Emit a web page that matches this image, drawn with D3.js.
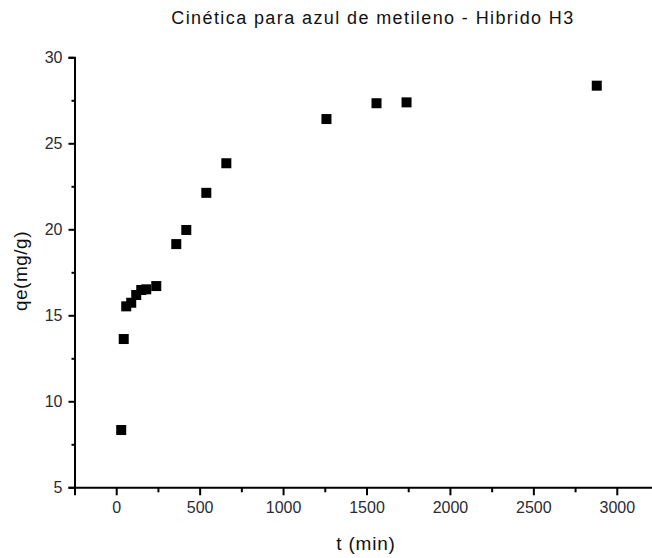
<!DOCTYPE html>
<html>
<head>
<meta charset="utf-8">
<script src="https://cdn.jsdelivr.net/npm/d3@7"></script>
<style>
  body { margin: 0; background: #fff; }
  text { font-family: "Liberation Sans", Arial, sans-serif; }
</style>
</head>
<body>
<div id="root"></div>
<script>
// kinetics data: contact time (min) vs adsorbed amount qe (mg/g)
const times = [30, 45, 60, 90, 120, 150, 180, 240, 360, 420, 540, 660, 1260, 1560, 1740, 2880];
const qe = [8.33, 13.62, 15.52, 15.73, 16.18, 16.47, 16.51, 16.7, 19.14, 19.96, 22.12, 23.84, 26.41, 27.33, 27.38, 28.35];

const xTicks = [0, 500, 1000, 1500, 2000, 2500, 3000];
const xMinor = [-250, 250, 750, 1250, 1750, 2250, 2750, 3250];
const yTicks = [5, 10, 15, 20, 25, 30];
const yMinor = [7.5, 12.5, 17.5, 22.5, 27.5];

const width = 652;
const height = 558;

const x = d3.scaleLinear().domain([-250, 3250]).range([74.5, 658.5]);
const y = d3.scaleLinear().domain([5, 30]).range([487.3, 57.3]);

const svg = d3.create("svg")
  .attr("width", width)
  .attr("height", height)
  .attr("viewBox", [0, 0, width, height]);

svg.append("rect").attr("width", width).attr("height", height).attr("fill", "#fff");

// title
svg.append("text")
  .attr("x", 373)
  .attr("y", 24)
  .attr("text-anchor", "middle")
  .attr("font-size", 18)
  .attr("letter-spacing", 1.4)
  .attr("fill", "#111")
  .text("Cinética para azul de metileno - Hibrido H3");

// bottom axis, major + minor ticks
const gx = svg.append("g").attr("transform", `translate(0,${y(5)})`);
gx.call(d3.axisBottom(x).tickValues(xTicks).tickSize(8).tickPadding(6).tickFormat(d3.format("d")));
gx.append("g")
  .call(d3.axisBottom(x).tickValues(xMinor).tickSize(5).tickFormat(""))
  .select(".domain").remove();

// left axis, major + minor ticks
const gy = svg.append("g").attr("transform", `translate(${x(-250)},0)`);
gy.call(d3.axisLeft(y).tickValues(yTicks).tickSize(6).tickPadding(6).tickFormat(d3.format("d")));
gy.append("g")
  .call(d3.axisLeft(y).tickValues(yMinor).tickSize(3).tickFormat(""))
  .select(".domain").remove();

svg.selectAll(".domain").attr("stroke", "#000").attr("stroke-width", 2);
svg.selectAll(".tick line").attr("stroke", "#000").attr("stroke-width", 2);
svg.selectAll(".tick text")
  .attr("font-size", 16)
  .attr("font-family", "Liberation Sans, Arial, sans-serif")
  .attr("fill", "#2b2b33");

// axis titles
svg.append("text")
  .attr("x", 366)
  .attr("y", 550)
  .attr("text-anchor", "middle")
  .attr("font-size", 19)
  .attr("letter-spacing", 0.8)
  .attr("fill", "#111")
  .text("t (min)");

svg.append("text")
  .attr("transform", "translate(27,271) rotate(-90)")
  .attr("text-anchor", "middle")
  .attr("font-size", 19)
  .attr("letter-spacing", 0.5)
  .attr("fill", "#111")
  .text("qe(mg/g)");

// square markers
const s = 10;
svg.append("g")
  .selectAll("rect")
  .data(times.map((t, i) => ({ t, q: qe[i] })))
  .join("rect")
  .attr("x", d => x(d.t) - s / 2)
  .attr("y", d => y(d.q) - s / 2)
  .attr("width", s)
  .attr("height", s)
  .attr("fill", "#000");

d3.select("#root").append(() => svg.node());
</script>
</body>
</html>
